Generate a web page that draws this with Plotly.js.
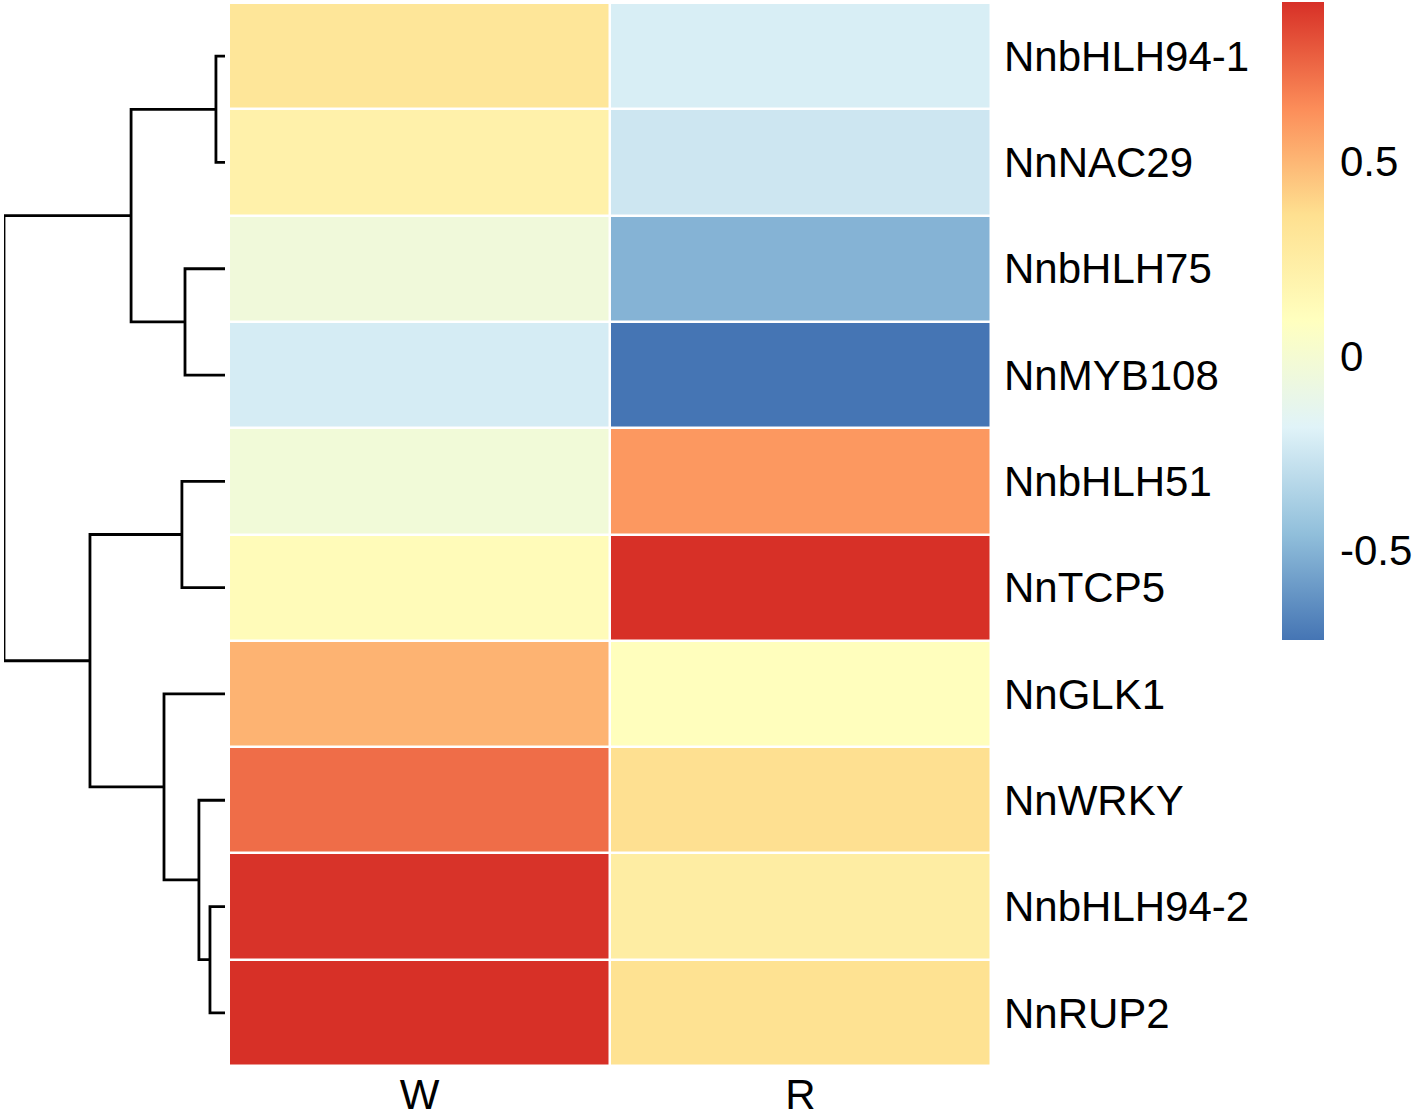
<!DOCTYPE html>
<html>
<head>
<meta charset="utf-8">
<script src="https://cdn.plot.ly/plotly-3.0.1.min.js"></script>
<style>html,body{margin:0;padding:0;background:#fff;}#chart{width:1416px;height:1115px;}</style>
</head>
<body>
<div id="chart"></div>
<script>
// ---- data ----
const rowLabels = ['NnbHLH94-1','NnNAC29','NnbHLH75','NnMYB108','NnbHLH51','NnTCP5','NnGLK1','NnWRKY','NnbHLH94-2','NnRUP2'];
const colLabels = ['W','R'];
const valuesW = [0.31, 0.21, -0.04, -0.22, -0.03, 0.125, 0.51, 0.73, 0.90, 0.91];
const valuesR = [-0.21, -0.25, -0.50, -0.73, 0.60, 0.91, 0.10, 0.36, 0.25, 0.35];
// hierarchical clustering of rows (hclust style: negative = leaf index+1, positive = merge step)
const mergeLeft   = [-1, -9, -8, -3, -5, -7, 1, 5, 7];
const mergeRight  = [-2, -10, 2, -4, -6, 3, 4, 6, 8];
const mergeHeight = [0.041, 0.068, 0.118, 0.181, 0.195, 0.276, 0.425, 0.611, 1.0];
const colorTicks = [-0.5, 0, 0.5];
const palette = ['#4575B4','#91BFDB','#E0F3F8','#FFFFBF','#FEE090','#FC8D59','#D73027'];

// ---- build ----
const z = rowLabels.map((_, i) => [valuesW[i], valuesR[i]]);
const colorscale = palette.map((c, i) => [i / (palette.length - 1), c]);

const W = 1416, H = 1115;
const heatTop = 3, heatBottom = 1066;

// dendrogram segments
const nodeY = [], nodeH = [];
function childPos(id) {
  if (id < 0) return {y: -id - 1, h: 0};
  return {y: nodeY[id - 1], h: nodeH[id - 1]};
}
const dx = [], dy = [];
for (let k = 0; k < mergeHeight.length; k++) {
  const a = childPos(mergeLeft[k]), b = childPos(mergeRight[k]);
  const h = mergeHeight[k];
  dx.push(a.h, h, h, b.h, null);
  dy.push(a.y, a.y, b.y, b.y, null);
  nodeY.push((a.y + b.y) / 2);
  nodeH.push(h);
}

const font = 'Liberation Sans, Arial, sans-serif';
const fs = 42;
const traces = [
  {
    type: 'heatmap',
    z: z,
    x: [0, 1],
    y: rowLabels.map((_, i) => i),
    colorscale: colorscale,
    xgap: 2.5, ygap: 2.5,
    hoverinfo: 'skip',
    colorbar: {
      x: 1282 / W, xanchor: 'left', xref: 'paper', xpad: 0,
      y: 1 - 2 / H, yanchor: 'top', ypad: 0,
      len: 638, lenmode: 'pixels',
      thickness: 42, thicknessmode: 'pixels',
      outlinewidth: 0,
      tickvals: colorTicks,
      ticktext: colorTicks.map(v => String(v)),
      ticks: 'outside', ticklen: 8, tickcolor: 'rgba(0,0,0,0)',
      tickfont: {family: font, size: fs, color: '#000'}
    }
  },
  {
    type: 'scatter', mode: 'lines',
    x: dx, y: dy,
    xaxis: 'x2', yaxis: 'y',
    line: {color: '#000', width: 2.8},
    hoverinfo: 'skip', showlegend: false
  }
];

const layout = {
  width: W, height: H,
  margin: {l: 0, r: 0, t: 0, b: 0},
  paper_bgcolor: '#fff', plot_bgcolor: '#fff',
  showlegend: false,
  font: {family: font, color: '#000'},
  xaxis: {
    domain: [229 / W, 991 / W],
    range: [-0.5, 1.5],
    tickvals: [0, 1], ticktext: colLabels,
    ticks: '', showgrid: false, zeroline: false, showline: false,
    tickfont: {family: font, size: fs, color: '#000'},
    ticklabelstandoff: 0,
    fixedrange: true
  },
  yaxis: {
    domain: [1 - heatBottom / H, 1 - heatTop / H],
    range: [rowLabels.length - 0.5, -0.5],
    tickvals: rowLabels.map((_, i) => i), ticktext: rowLabels,
    side: 'right', anchor: 'x',
    ticks: '', showgrid: false, zeroline: false, showline: false,
    tickfont: {family: font, size: fs, color: '#000'},
    ticklabelstandoff: 12,
    fixedrange: true
  },
  xaxis2: {
    domain: [4 / W, 225 / W],
    range: [1, 0],
    anchor: 'y',
    visible: false, showgrid: false, zeroline: false,
    fixedrange: true
  }
};

Plotly.newPlot('chart', traces, layout, {displayModeBar: false, staticPlot: true});
</script>
</body>
</html>
